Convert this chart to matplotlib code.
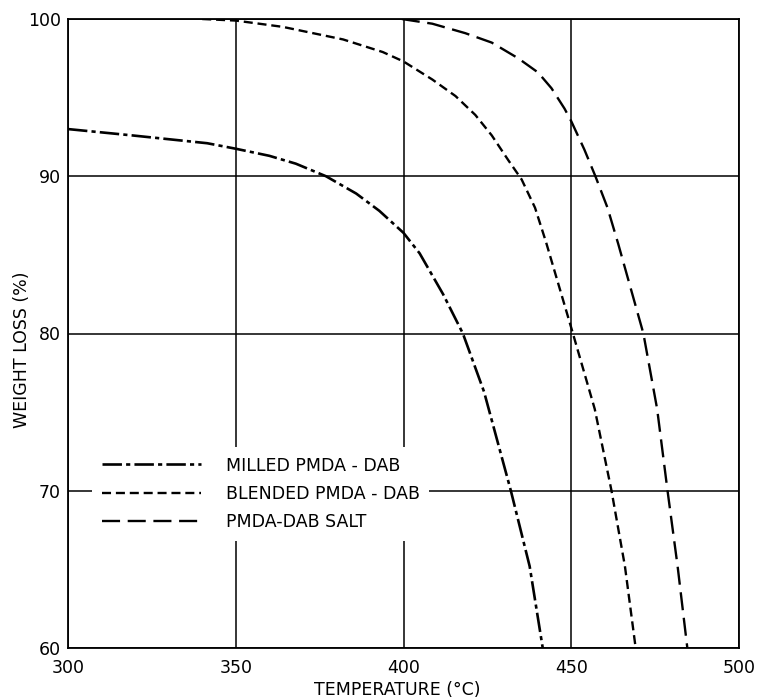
import matplotlib
matplotlib.use("Agg")
import matplotlib.pyplot as plt

# Data
milled_T = [300, 319, 341.5, 350, 360, 367.9, 376.9, 385.9, 392.8, 400, 404.8, 411.8,
            417.7, 424, 432, 437.6, 441.5]
milled_W = [93.0, 92.6, 92.1, 91.75, 91.3, 90.8, 90.0, 88.9, 87.8, 86.4, 85.1, 82.5,
            80.0, 76.3, 70.0, 65.2, 60.0]

blended_T = [340, 350, 364, 382, 393.8, 400, 408.6, 415.5, 421.4, 426.3, 431.3, 435.2,
             439.2, 442.5, 450.5, 457, 462, 466, 469.2]
blended_W = [100, 99.9, 99.5, 98.7, 97.9, 97.3, 96.15, 95.1, 93.9, 92.6, 91.0, 89.8,
             88.0, 85.8, 80, 75.2, 70, 65.2, 60]

salt_T = [399.5, 408.6, 418.4, 426.3, 434.2, 440.1, 444.1, 448, 450, 453.9, 457.2, 460.8,
          464, 471.5, 475.6, 478.7, 481.7, 484.6]
salt_W = [100, 99.7, 99.1, 98.5, 97.5, 96.6, 95.6, 94.3, 93.5, 91.7, 90.0, 88.0,
          85.7, 80, 75.2, 70, 65.2, 60]

labels = ["MILLED PMDA - DAB", "BLENDED PMDA - DAB", "PMDA-DAB SALT"]
x_ticks = [300, 350, 400, 450, 500]
y_ticks = [60, 70, 80, 90, 100]

plt.rcParams['lines.scale_dashes'] = False
plt.rcParams['font.family'] = ['DejaVu Sans']

fig = plt.figure(figsize=(7.59, 7.0), dpi=100)
ax = fig.add_axes([68/759, 52/700, 671/759, 629/700])

ax.plot(milled_T, milled_W, color='black', lw=1.9, dashes=(14, 3, 3, 3), label=labels[0])
ax.plot(blended_T, blended_W, color='black', lw=1.7, dashes=(6.5, 3.5), label=labels[1])
ax.plot(salt_T, salt_W, color='black', lw=1.7, dashes=(13, 5.5), label=labels[2])

ax.set_xlim(300, 500)
ax.set_ylim(60, 100)
ax.set_xticks(x_ticks)
ax.set_yticks(y_ticks)
ax.set_xticklabels([str(v) for v in x_ticks])
ax.set_yticklabels([str(v) for v in y_ticks])
ax.tick_params(length=0, labelsize=12.5)
ax.tick_params(axis='x', pad=8)
ax.tick_params(axis='y', pad=5)
ax.grid(True, color='black', lw=1.1)
ax.set_axisbelow(True)
for s in ax.spines.values():
    s.set_linewidth(1.3)
    s.set_color('black')

ax.set_xlabel("TEMPERATURE (°C)", fontsize=12.5)
ax.xaxis.set_label_coords((397 - 68) / 671, (648 - 681) / 629)
ax.set_ylabel("WEIGHT LOSS (%)", fontsize=12.5)
ax.yaxis.set_label_coords((31 - 68) / 671, (648 - 350) / 629)

leg = ax.legend(loc='upper left', bbox_to_anchor=((92 - 68) / 671, (648 - 447) / 629),
                borderaxespad=0, frameon=True, fancybox=False, framealpha=1,
                edgecolor='white', facecolor='white', fontsize=12.5,
                handlelength=5.7, handletextpad=1.45, labelspacing=0.6, borderpad=0.55)
leg.get_frame().set_linewidth(0)

fig.savefig("out.png", dpi=100)
